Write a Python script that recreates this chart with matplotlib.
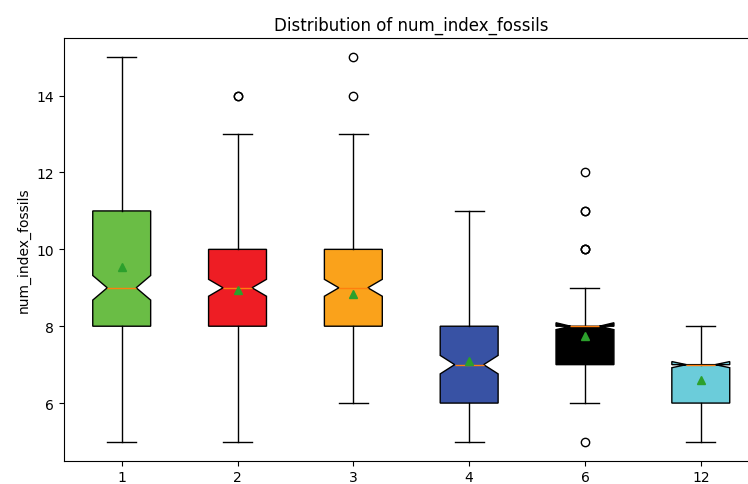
import matplotlib
matplotlib.use("Agg")
import matplotlib.pyplot as plt

categories = ["1", "2", "3", "4", "6", "12"]
medians = [9, 9, 9, 7, 8, 7]
q1s = [8, 8, 8, 6, 7, 6]
q3s = [11, 10, 10, 8, 8, 7]
whisker_low = [5, 5, 6, 5, 6, 5]
whisker_high = [15, 13, 13, 11, 9, 8]
means = [9.53, 8.93, 8.85, 7.1, 7.75, 6.6]
ci_low = [8.68, 8.78, 8.78, 6.76, 7.91, 6.92]
ci_high = [9.32, 9.22, 9.22, 7.24, 8.09, 7.08]
fliers = [[], [14, 14], [14, 15], [], [5, 10, 10, 10, 11, 11, 12], []]
colors = ["#6ABD45", "#EE1D24", "#FAA21B", "#3852A4", "#000000", "#6BCCDA"]

stats = []
for i, c in enumerate(categories):
    stats.append(dict(label=c, med=medians[i], q1=q1s[i], q3=q3s[i],
                      whislo=whisker_low[i], whishi=whisker_high[i],
                      mean=means[i], cilo=ci_low[i], cihi=ci_high[i],
                      fliers=fliers[i]))

fig = plt.figure(figsize=(7.48, 4.85), dpi=100)
ax = fig.add_axes([0.0853, 0.048, 0.929, 0.8716])
bp = ax.bxp(stats, shownotches=True, showmeans=True, patch_artist=True)
for patch, col in zip(bp["boxes"], colors):
    patch.set_facecolor(col)
ax.set_title("Distribution of num_index_fossils", fontsize=12)
ax.set_ylabel("num_index_fossils")
fig.savefig("out.png", dpi=100)
